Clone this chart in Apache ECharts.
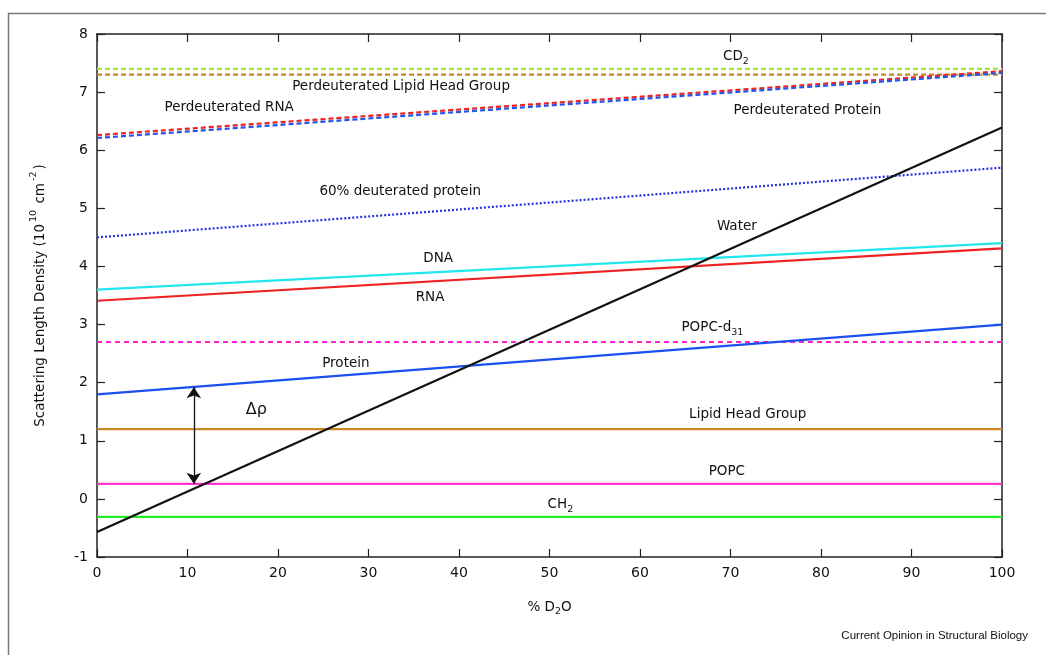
<!DOCTYPE html>
<html>
<head>
<meta charset="utf-8">
<script src="https://cdn.jsdelivr.net/npm/echarts@6/dist/echarts.min.js"></script>
<style>html,body{margin:0;padding:0;background:#fff;}#c{width:1046px;height:655px;}</style>
</head>
<body>
<div id="c"></div>
<script>
// ---- data ----
const xEnds = [0, 100];
const cd2 = [7.4, 7.4];
const perdeutLipidHead = [7.3, 7.3];
const perdeutRNA = [6.26, 7.36];
const perdeutProtein = [6.21, 7.33];
const deut60Protein = [4.5, 5.7];
const dna = [3.6, 4.4];
const rna = [3.41, 4.31];
const popcD31 = [2.7, 2.7];
const protein = [1.8, 3.0];
const water = [-0.57, 6.39];
const lipidHead = [1.2, 1.2];
const popc = [0.26, 0.26];
const ch2 = [-0.31, -0.31];

const arrowX = [10.7, 10.7];
const arrowY = [1.92, 0.26];

const labelX = [70.6, 33.6, 14.6, 78.5, 33.5, 70.7, 37.7, 36.8, 68.0, 27.5, 17.6, 71.9, 69.6, 51.2];
const labelY = [7.62, 7.09, 6.74, 6.69, 5.29, 4.69, 4.14, 3.47, 2.95, 2.33, 1.53, 1.45, 0.47, -0.1];
const labelText = ['{m|CD}{s|2}', '{m|Perdeuterated Lipid Head Group}', '{m|Perdeuterated RNA}',
  '{m|Perdeuterated Protein}', '{m|60% deuterated protein}', '{m|Water}', '{m|DNA}', '{m|RNA}',
  '{m|POPC-d}{s|31}', '{m|Protein}', '{g|Δρ}', '{m|Lipid Head Group}', '{m|POPC}', '{m|CH}{s|2}'];

const xTicks = [0, 10, 20, 30, 40, 50, 60, 70, 80, 90, 100];
const yTicks = [-1, 0, 1, 2, 3, 4, 5, 6, 7, 8];

const FONT = 'DejaVu Sans';
const TXT = '#111';
const chart = echarts.init(document.getElementById('c'));

function line(name, vals, color, type) {
  return {
    type: 'line', name: name, data: xEnds.map((x, i) => [x, vals[i]]),
    symbol: 'none', silent: true, z: 3,
    lineStyle: { color: color, width: 2.2, type: type || 'solid' }
  };
}

const axisCommon = {
  type: 'value',
  axisLine: { show: true, onZero: false, lineStyle: { color: '#222', width: 1.5 } },
  axisTick: { show: true, inside: true, length: 8, lineStyle: { color: '#222', width: 1.2 } },
  splitLine: { show: false }
};

const richM = { fontFamily: FONT, fontSize: 13.5, color: TXT, lineHeight: 20, verticalAlign: 'middle', textBorderWidth: 0 };
const richS = { fontFamily: FONT, fontSize: 9.5, color: TXT, lineHeight: 8, verticalAlign: 'bottom', textBorderWidth: 0 };

const option = {
  backgroundColor: '#fff',
  animation: false,
  grid: { left: 97, right: 44, top: 34, bottom: 98, containLabel: false },
  xAxis: [
    Object.assign({}, axisCommon, {
      min: 0, max: 100, interval: 10, position: 'bottom',
      name: '{m|% D}{s|2}{m|O}', nameLocation: 'middle', nameGap: 40,
      nameTextStyle: { rich: { m: richM, s: richS } },
      axisLabel: { fontFamily: FONT, fontSize: 14, color: TXT, margin: 9,
        formatter: v => xTicks.includes(v) ? String(v) : '' }
    }),
    Object.assign({}, axisCommon, {
      min: 0, max: 100, interval: 10, position: 'top', axisLabel: { show: false }
    })
  ],
  yAxis: [
    Object.assign({}, axisCommon, {
      min: -1, max: 8, interval: 1, position: 'left',
      name: '{m|Scattering Length Density (10}{p|10}{m| cm}{p|-2}{m|)}', nameLocation: 'middle', nameGap: 46, nameRotate: 90,
      nameTextStyle: { rich: { m: Object.assign({}, richM, { lineHeight: 22 }),
                               p: { fontFamily: FONT, fontSize: 9.5, color: TXT, lineHeight: 8, verticalAlign: 'top', padding: [0, 2, 0, 2] } } },
      axisLabel: { fontFamily: FONT, fontSize: 14, color: TXT, margin: 9,
        formatter: v => yTicks.includes(v) ? String(v) : '' }
    }),
    Object.assign({}, axisCommon, {
      min: -1, max: 8, interval: 1, position: 'right', axisLabel: { show: false }
    })
  ],
  graphic: [
    { type: 'rect', shape: { x: 8.5, y: 13.5, width: 1200, height: 800 }, style: { fill: 'none', stroke: '#777', lineWidth: 1.5 }, z: -1 },
    { type: 'text', right: 18, top: 630, style: { text: 'Current Opinion in Structural Biology', fontFamily: 'Liberation Sans', fontSize: 11.5, fill: '#111' } }
  ],
  series: [
    line('CD2', cd2, '#a6e63a', [5, 3]),
    line('Perdeuterated Lipid Head Group', perdeutLipidHead, '#cc8822', [5, 3]),
    line('Perdeuterated RNA', perdeutRNA, '#ee2222', [5, 3]),
    line('Perdeuterated Protein', perdeutProtein, '#2255ee', [5, 3]),
    line('60% deuterated protein', deut60Protein, '#2233dd', [2, 2]),
    line('DNA', dna, '#22e6ee', 'solid'),
    line('RNA', rna, '#ee2222', 'solid'),
    line('POPC-d31', popcD31, '#ff22cc', [5, 4]),
    line('Protein', protein, '#1a4ff0', 'solid'),
    line('Lipid Head Group', lipidHead, '#cc8822', 'solid'),
    line('POPC', popc, '#ff33cc', 'solid'),
    line('CH2', ch2, '#22ee22', 'solid'),
    line('Water', water, '#111111', 'solid'),
    {
      type: 'lines', coordinateSystem: 'cartesian2d', silent: true, z: 4,
      symbol: ['arrow', 'arrow'], symbolSize: [11, 11],
      lineStyle: { color: '#111', width: 1.3, opacity: 1 },
      data: [{ coords: arrowX.map((x, i) => [x, arrowY[i]]) }]
    },
    {
      type: 'scatter', silent: true, symbolSize: 0, z: 5,
      itemStyle: { opacity: 1 },
      data: labelX.map((x, i) => [x, labelY[i], labelText[i]]),
      label: {
        show: true, position: 'inside', color: TXT, textBorderWidth: 0, opacity: 1,
        formatter: p => p.data[2],
        rich: {
          m: richM,
          s: richS,
          g: Object.assign({}, richM, { fontSize: 16 })
        }
      }
    }
  ]
};
chart.setOption(option);
</script>
</body>
</html>
